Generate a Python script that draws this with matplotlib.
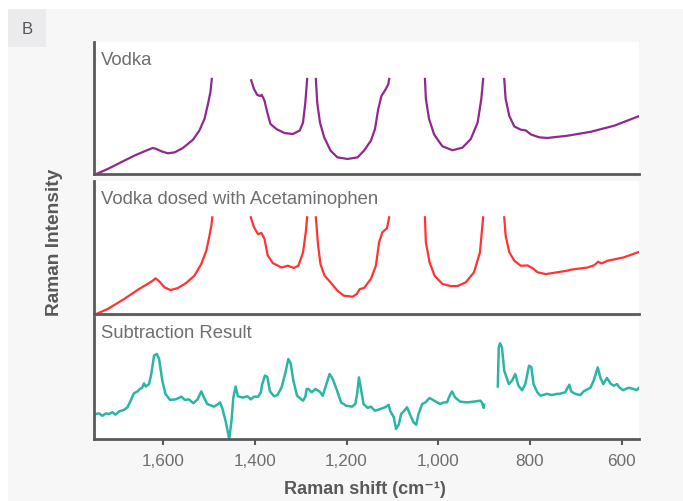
import numpy as np
import matplotlib.pyplot as plt
from matplotlib.patches import Rectangle

plt.rcParams['font.family'] = ['Liberation Sans', 'DejaVu Sans']

# x in cm-1, y in relative intensity (nan = break where the trace leaves the panel)
nan = np.nan
vodka_x = [1746, 1721, 1692, 1663, 1641, 1623, 1615, 1604, 1590, 1575, 1557, 1535, 1521,
           1510, 1503, 1497, 1494, nan,
           1408, 1402, 1395, 1388, 1385, 1379, 1373, 1366, 1353, 1335, 1317, 1302, 1295,
           1290, 1286, nan,
           1267, 1264, 1258, 1249, 1235, 1220, 1198, 1176, 1162, 1147, 1138, 1131, 1124,
           1115, 1109, 1107, nan,
           1029, 1027, 1020, 1009, 991, 969, 947, 929, 914, 906, 902, nan,
           856, 853, 845, 834, 820, 809, 798, 780, 762, 718, 667, 616, 561]
vodka_y = [0.0, 0.038, 0.089, 0.139, 0.172, 0.197, 0.19, 0.172, 0.157, 0.164, 0.197, 0.26,
           0.33, 0.417, 0.52, 0.62, 0.72, nan,
           0.71, 0.644, 0.60, 0.59, 0.60, 0.555, 0.467, 0.379, 0.34, 0.31, 0.303, 0.33,
           0.39, 0.54, 0.72, nan,
           0.72, 0.54, 0.39, 0.28, 0.177, 0.126, 0.114, 0.126, 0.177, 0.252, 0.34, 0.49,
           0.59, 0.64, 0.68, 0.72, nan,
           0.72, 0.57, 0.417, 0.30, 0.21, 0.18, 0.20, 0.265, 0.39, 0.57, 0.72, nan,
           0.72, 0.57, 0.44, 0.36, 0.336, 0.33, 0.30, 0.278, 0.273, 0.29, 0.32, 0.366, 0.44]

dosed_x = [1746, 1721, 1685, 1655, 1634, 1623, 1617, 1610, 1597, 1584, 1568, 1550, 1532,
           1517, 1506, 1499, 1495, 1493, nan,
           1409, 1402, 1393, 1386, 1379, 1372, 1361, 1342, 1328, 1315, 1305, 1295, 1289,
           1286, nan,
           1267, 1262, 1257, 1248, 1235, 1220, 1206, 1187, 1178, 1171, 1162, 1147, 1136,
           1129, 1122, 1112, 1107, nan,
           1029, 1027, 1019, 1008, 991, 973, 958, 940, 922, 909, 902, nan,
           856, 853, 845, 834, 820, 805, 794, 783, 765, 718, 711, 674, 660, 651, 644,
           631, 595, 561]
dosed_y = [0.0, 0.038, 0.113, 0.183, 0.226, 0.25, 0.268, 0.25, 0.20, 0.18, 0.195, 0.233,
           0.288, 0.376, 0.476, 0.59, 0.664, 0.727, nan,
           0.727, 0.652, 0.60, 0.61, 0.564, 0.44, 0.383, 0.35, 0.363, 0.346, 0.363, 0.464,
           0.614, 0.727, nan,
           0.727, 0.514, 0.376, 0.288, 0.238, 0.175, 0.138, 0.13, 0.15, 0.188, 0.195,
           0.263, 0.363, 0.54, 0.614, 0.644, 0.727, nan,
           0.727, 0.54, 0.39, 0.288, 0.226, 0.21, 0.21, 0.238, 0.313, 0.464, 0.727, nan,
           0.727, 0.59, 0.464, 0.40, 0.363, 0.365, 0.344, 0.313, 0.30, 0.326, 0.333,
           0.35, 0.366, 0.393, 0.38, 0.40, 0.426, 0.468]

sub_x = [1747, 1740, 1733, 1725, 1718, 1711, 1704, 1696, 1686, 1678, 1671, 1664, 1656,
         1651, 1646, 1642, 1638, 1631, 1626, 1620, 1614, 1609, 1602, 1595, 1585, 1573,
         1560, 1553, 1544, 1534, 1525, 1517, 1511, 1504, 1489, 1480, 1476, 1471, 1464,
         1456, 1451, 1447, 1442, 1437, 1427, 1416, 1409, 1402, 1393, 1387, 1384, 1378,
         1373, 1367, 1358, 1351, 1342, 1334, 1327, 1322, 1316, 1308, 1300, 1295, 1290,
         1287, 1283, 1276, 1268, 1259, 1252, 1244, 1237, 1230, 1221, 1212, 1201, 1188,
         1181, 1177, 1173, 1169, 1163, 1154, 1147, 1138, 1127, 1116, 1108, 1105, 1097,
         1092, 1086, 1081, 1074, 1068, 1062, 1054, 1048, 1043, 1035, 1028, 1019, 1007,
         996, 988, 981, 975, 970, 963, 952, 937, 923, 908, 905, 901, 900, nan,
         870, 868, 865, 861, 856, 846, 839, 832, 825, 817, 810, 802, 797, 792, 784, 777,
         763, 752, 741, 735, 723, 718, 714, 710, 701, 690, 683, 668, 661, 652, 646, 640,
         632, 623, 617, 610, 604, 597, 585, 574, 567, 562]
sub_y = [0.205, 0.21, 0.19, 0.21, 0.205, 0.219, 0.20, 0.227, 0.238, 0.26, 0.314, 0.375,
         0.39, 0.41, 0.42, 0.456, 0.43, 0.45, 0.533, 0.683, 0.697, 0.656, 0.478, 0.369,
         0.32, 0.325, 0.347, 0.32, 0.325, 0.293, 0.325, 0.39, 0.34, 0.287, 0.265, 0.287,
         0.30, 0.25, 0.15, 0.0, 0.15, 0.34, 0.43, 0.35, 0.34, 0.35, 0.325, 0.347, 0.347,
         0.383, 0.45, 0.52, 0.51, 0.39, 0.35, 0.36, 0.42, 0.533, 0.656, 0.62, 0.478,
         0.355, 0.33, 0.314, 0.345, 0.41, 0.41, 0.383, 0.41, 0.39, 0.355, 0.45, 0.533,
         0.49, 0.40, 0.30, 0.273, 0.265, 0.287, 0.37, 0.505, 0.42, 0.287, 0.255, 0.265,
         0.232, 0.245, 0.26, 0.28, 0.232, 0.178, 0.082, 0.12, 0.205, 0.232, 0.26, 0.205,
         0.137, 0.117, 0.205, 0.287, 0.30, 0.336, 0.31, 0.287, 0.30, 0.30, 0.355, 0.39,
         0.34, 0.306, 0.30, 0.306, 0.314, 0.30, 0.255, 0.28, nan,
         0.43, 0.75, 0.785, 0.75, 0.56, 0.45, 0.478, 0.533, 0.437, 0.40, 0.45, 0.60, 0.59,
         0.45, 0.383, 0.355, 0.37, 0.36, 0.37, 0.37, 0.383, 0.42, 0.445, 0.39, 0.37, 0.36,
         0.39, 0.42, 0.478, 0.587, 0.50, 0.45, 0.50, 0.45, 0.437, 0.45, 0.42, 0.40, 0.42,
         0.41, 0.40, 0.42]

xticks = [1600, 1400, 1200, 1000, 800, 600]
xticklabels = ['1,600', '1,400', '1,200', '1,000', '800', '600']

W, H = 683, 502
fig = plt.figure(figsize=(W / 100, H / 100), dpi=100, facecolor='white')

# grey card and the "B" tab, kept behind the axes
fig.patches.append(Rectangle((8 / W, 0), 1, 1 - 10 / H, transform=fig.transFigure,
                             facecolor='#f7f7f7', edgecolor='none', zorder=-10))
fig.patches.append(Rectangle((8 / W, 1 - 48 / H), 38 / W, 38 / H, transform=fig.transFigure,
                             facecolor='#ebebed', edgecolor='none', zorder=-10))
fig.text(27 / W, 1 - 30 / H, 'B', ha='center', va='center', fontsize=12, color='#555555')

spine_c = '#58595b'
text_c = '#6d6e71'
panels = [
    ((43, 175), vodka_x, vodka_y, '#92278f', 1.6, 'Vodka'),
    ((182, 315), dosed_x, dosed_y, '#ff3333', 1.6, 'Vodka dosed with Acetaminophen'),
    ((318, 440), sub_x, sub_y, '#2bb5a3', 1.8, 'Subtraction Result'),
]
left, right = 94, 639
for i, ((top, bot), xs, ys, col, lw, title) in enumerate(panels):
    ax = fig.add_axes([left / W, 1 - bot / H, (right - left) / W, (bot - top) / H])
    ax.set_facecolor('white')
    ax.plot(xs, ys, color=col, lw=lw, solid_joinstyle='round')
    ax.set_xlim(1751, 562)
    ax.set_ylim(0, 1)
    for s in ['top', 'right']:
        ax.spines[s].set_visible(False)
    for s in ['left', 'bottom']:
        ax.spines[s].set_color(spine_c)
        ax.spines[s].set_linewidth(2)
    ax.set_yticks([])
    ax.text(0.012, 0.87, title, transform=ax.transAxes, fontsize=13.3, color=text_c,
            ha='left', va='center')
    if i == 2:
        ax.set_xticks(xticks)
        ax.set_xticklabels(xticklabels)
        ax.tick_params(axis='x', colors=spine_c, labelcolor=text_c, labelsize=12.3,
                       length=4, width=1.5, pad=6)
    else:
        ax.set_xticks([])

fig.text(55 / W, 1 - 242 / H, 'Raman Intensity', rotation=90, ha='center', va='center',
         fontsize=13.8, fontweight='bold', color='#58595b')
fig.text(365 / W, 1 - 490 / H, 'Raman shift (cm\u207b\u00b9)', ha='center', va='center',
         fontsize=13, fontweight='bold', color='#58595b')

fig.savefig('out.png', dpi=100, facecolor='white')
